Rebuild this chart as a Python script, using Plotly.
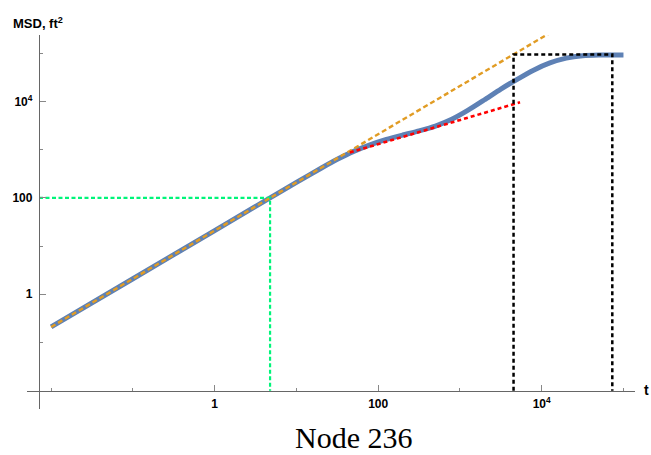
import plotly.graph_objects as go

# ---- data ----
t_blue = [0.01, 0.1, 1, 10, 20, 31.6, 50.1, 79.4, 126, 200, 316, 501, 794, 1259,
          1995, 3162, 5012, 7943, 12590, 19950, 31620, 50120, 100000]
msd_blue = [0.21, 2.1, 21, 210, 412, 631, 923, 1262, 1633, 2018, 2460, 3097, 4276, 6622,
            10890, 18070, 28910, 44770, 63240, 79620, 89330, 92260, 92680]

orange_t = [0.01, 12000]
orange_msd = [0.21, 252000]

red_t = [45, 5430]
red_msd = [876, 9624]

green_t = [0.0071, 4.76, 4.76]
green_msd = [100, 100, 0.01]

black_t = [4524, 4524, 73000, 73000]
black_msd = [0.01, 95000, 95000, 0.01]

x_tickvals = [1, 100, 1e4]
x_ticktext = ["1", "100", "10<sup>4</sup>"]
x_minor = [0.01, 0.1, 10, 1000, 1e5]
y_tickvals = [1, 100, 1e4]
y_ticktext = ["1", "100", "10<sup>4</sup>"]
y_minor = [0.1, 10, 1000, 1e5]

W, H = 651, 455

fig = go.Figure()
fig.add_trace(go.Scatter(x=t_blue, y=msd_blue, mode="lines",
                         line=dict(color="#5E81B5", width=5, shape="spline", smoothing=0.6)))
fig.add_trace(go.Scatter(x=green_t, y=green_msd, mode="lines",
                         line=dict(color="#00F57A", width=2.2, dash="4px,2.5px")))
fig.add_trace(go.Scatter(x=orange_t, y=orange_msd, mode="lines",
                         line=dict(color="#E19C24", width=2.4, dash="5px,3px")))
fig.add_trace(go.Scatter(x=red_t, y=red_msd, mode="lines",
                         line=dict(color="#FF0000", width=2.6, dash="4px,3px")))
fig.add_trace(go.Scatter(x=black_t, y=black_msd, mode="lines",
                         line=dict(color="#000000", width=2.5, dash="4px,3px")))

axis_font = dict(family="Liberation Sans, Arial", size=12, color="#000000", weight="bold")

fig.update_layout(
    width=W, height=H, margin=dict(l=0, r=0, t=0, b=0),
    paper_bgcolor="white", plot_bgcolor="white", showlegend=False,
    xaxis=dict(type="log", range=[-2.299, 5.141], domain=[26.7 / W, 635 / W],
               anchor="free", position=1 - 390.7 / H,
               showline=True, linecolor="#666666", linewidth=1.3,
               ticks="inside", ticklen=6, tickcolor="#888888", tickwidth=1,
               tickmode="array", tickvals=x_tickvals, ticktext=x_ticktext,
               minor=dict(tickvals=x_minor, ticks="inside", ticklen=3, tickcolor="#888888"),
               showgrid=False, zeroline=False, tickfont=axis_font, ticklabelstandoff=2),
    yaxis=dict(type="log", range=[-2.380, 5.380], domain=[1 - 409 / H, 1 - 35 / H],
               anchor="free", position=39 / W,
               showline=True, linecolor="#666666", linewidth=1.3,
               ticks="inside", ticklen=6, tickcolor="#888888", tickwidth=1,
               tickmode="array", tickvals=y_tickvals, ticktext=y_ticktext,
               minor=dict(tickvals=y_minor, ticks="inside", ticklen=3, tickcolor="#888888"),
               showgrid=False, zeroline=False, tickfont=axis_font, ticklabelstandoff=4),
    annotations=[
        dict(text="MSD, ft<sup>2</sup>", xref="paper", yref="paper", x=11 / W, y=1 - 23 / H,
             xanchor="left", yanchor="middle", showarrow=False,
             font=dict(family="Liberation Sans, Arial", size=13, color="black", weight="bold")),
        dict(text="t", xref="paper", yref="paper", x=646 / W, y=1 - 390 / H,
             xanchor="center", yanchor="middle", showarrow=False,
             font=dict(family="Liberation Sans, Arial", size=14, color="black", weight="bold")),
        dict(text="Node 236", xref="paper", yref="paper", x=353.5 / W, y=1 - 437 / H,
             xanchor="center", yanchor="middle", showarrow=False,
             font=dict(family="Liberation Serif, Times New Roman", size=30, color="black")),
    ],
)

fig.write_html("out.html")
